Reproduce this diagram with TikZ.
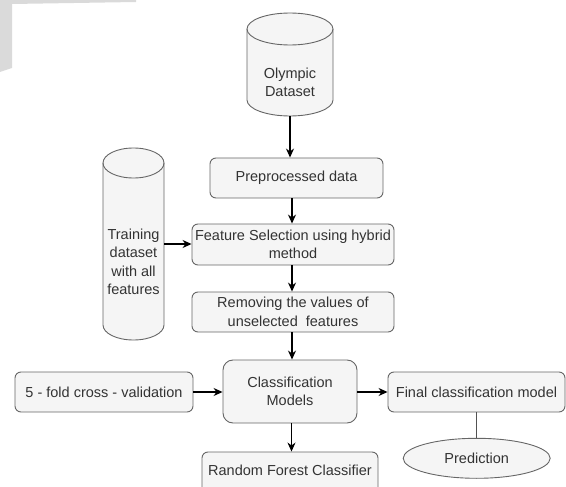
\documentclass[tikz,border=0pt]{standalone}
\usepackage{fontspec}
\setmainfont{Liberation Sans}
\usetikzlibrary{arrows.meta,shapes.geometric}
\definecolor{boxfill}{HTML}{F5F5F5}
\definecolor{boxline}{HTML}{666666}
\definecolor{txt}{HTML}{333333}
\definecolor{wm}{HTML}{DADADA}
\tikzset{
  lbl/.style={text=txt, font=\fontsize{14.5}{18.5}\selectfont, align=center, inner sep=0pt},
  procbox/.style={lbl, draw=boxline, fill=boxfill, rounded corners=6pt, line width=0.9pt},
  cylline/.style={draw=boxline, fill=boxfill, line width=0.9pt},
  flow/.style={-{Stealth[length=9pt,width=8pt]}, line width=1.2pt, black},
  plainline/.style={line width=1.2pt, draw=boxline!80!black},
}
\begin{document}
\begin{tikzpicture}[x=1pt,y=-1pt]
\useasboundingbox (0,0) rectangle (566,487);
% watermark fragment
\fill[wm] (0,0) -- (136,0) -- (136,2) -- (12,4) -- (12,68) -- (0,72) -- cycle;

% Olympic Dataset cylinder
\node[inner sep=0pt, minimum width=86pt, minimum height=103pt] (olymp) at (290,64.5) {};
\path[cylline] (247,29) -- (247,100) arc[start angle=180, end angle=360, x radius=43pt, y radius=16pt]
  -- (333,29) arc[start angle=0, end angle=180, x radius=43pt, y radius=16pt] -- cycle;
\draw[boxline, line width=0.9pt] (247,29) arc[start angle=180, end angle=360, x radius=43pt, y radius=16pt];
\node[lbl] (olymplbl) at (290,82.5) {Olympic\\Dataset};

% Training dataset cylinder
\node[inner sep=0pt, minimum width=61pt, minimum height=192pt] (train) at (133.5,244) {};
\path[cylline] (103,163) -- (103,325) arc[start angle=180, end angle=360, x radius=30.5pt, y radius=15pt]
  -- (164,163) arc[start angle=0, end angle=180, x radius=30.5pt, y radius=15pt] -- cycle;
\draw[boxline, line width=0.9pt] (103,163) arc[start angle=180, end angle=360, x radius=30.5pt, y radius=15pt];
\node[lbl] (trainlbl) at (133.5,262) {Training\\dataset\\with all\\features};

% process boxes
\node[procbox, minimum width=173pt, minimum height=40pt] (pre) at (296.5,178) {Preprocessed data};
\node[procbox, minimum width=202pt, minimum height=41pt] (feat) at (293,244.5) {Feature Selection using hybrid\\method};
\node[procbox, minimum width=202pt, minimum height=40pt] (rem) at (293,312) {Removing the values of\\unselected\ \ features};
\node[procbox, minimum width=178pt, minimum height=40pt] (fold) at (104,392) {5 - fold cross - validation};
\node[procbox, rounded corners=10pt, minimum width=134pt, minimum height=63pt] (cls) at (290,391.5) {Classification\\Models};
\node[procbox, minimum width=176pt, minimum height=42pt, text depth=0pt] (rf) at (290,473) {};
\node[lbl] (rflbl) at (290,470.5) {Random Forest Classifier};
\node[procbox, minimum width=177pt, minimum height=40pt] (fin) at (476.5,392) {Final classification model};
\node[lbl, ellipse, draw=boxline, fill=boxfill, line width=0.9pt, minimum width=147pt, minimum height=40pt] (pred) at (476.7,458.3) {Prediction};

% connectors
\draw[flow] (olymp.south) -- (olymp.south |- pre.north);
\draw[flow] ([xshift=-4.5pt]pre.south) -- ([xshift=-4.5pt]pre.south |- feat.north);
\draw[flow] ([xshift=-1pt]feat.south) -- ([xshift=-1pt]feat.south |- rem.north);
\draw[flow] ([xshift=-1pt]rem.south) -- ([xshift=-1pt]rem.south |- cls.north);
\draw[flow] (train.east) -- (train.east -| feat.west);
\draw[flow] (fold.east) -- (fold.east -| cls.west);
\draw[flow] (cls.east |- fin.west) -- (fin.west);
\draw[flow] ([xshift=1.5pt]cls.south) -- ([xshift=1.5pt]cls.south |- rf.north);
\draw[plainline] (fin.south) -- (fin.south |- pred.north);
\end{tikzpicture}
\end{document}
